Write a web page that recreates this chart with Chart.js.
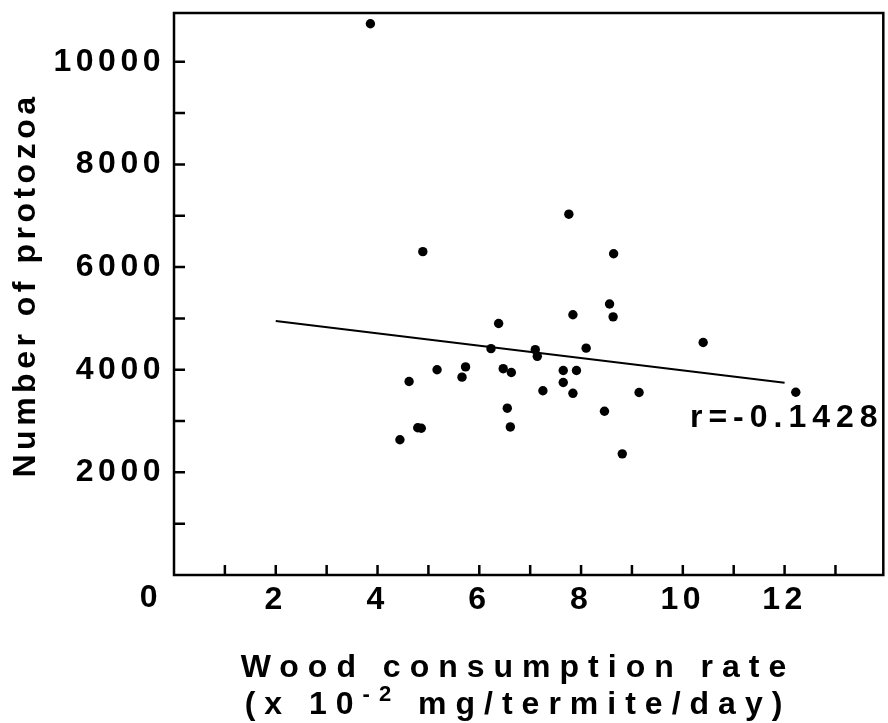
<!DOCTYPE html>
<html><head><meta charset="utf-8">
<script src="https://cdn.jsdelivr.net/npm/chart.js@4.4.1/dist/chart.umd.min.js"></script>
<style>html,body{margin:0;padding:0;background:#fff}#wrap{width:888px;height:723px}</style>
</head><body><div id="wrap"><canvas id="c" width="888" height="723"></canvas></div>
<script>
// ---- data ----
const consumption = [3.86, 4.89, 7.76, 8.64, 8.56, 8.63, 7.84, 6.38, 6.23, 7.10, 7.14, 8.10, 5.17, 5.73, 5.66, 4.62, 6.47, 6.63, 7.65, 7.91, 7.65, 7.25, 7.84, 9.14, 6.55, 8.46, 4.79, 4.86, 6.61, 10.40, 12.22, 4.44, 8.81];
const protozoa    = [10740, 6300, 7030, 6260, 5280, 5030, 5070, 4900, 4410, 4390, 4260, 4420, 4000, 4055, 3855, 3770, 4020, 3945, 3985, 3985, 3750, 3590, 3540, 3555, 3250, 3190, 2870, 2860, 2885, 4530, 3560, 2635, 2360];
const fitX = [2, 12];
const fitY = [4950, 3745];
const xTickValues = [2, 4, 6, 8, 10, 12];
const yTickValues = [2000, 4000, 6000, 8000, 10000];
const xMarkValues = [1, 2, 3, 4, 5, 6, 7, 8, 9, 10, 11, 12, 13];
const yMarkValues = [1000, 2000, 3000, 4000, 5000, 6000, 7000, 8000, 9000, 10000];
const originLabel = '0';
const yTitle = 'Number of protozoa';
const xTitleLine1 = 'Wood consumption rate';
const xTitleLine2 = ['(x 10', '-2', ' mg/termite/day)'];
const rLabel = 'r=-0.1428';
const rLabelAt = [10.14, 3060];

const FONT = '"Liberation Sans", Arial, Helvetica, sans-serif';

const decor = {
  id: 'decor',
  beforeDraw(chart) { chart.ctx.letterSpacing = '4.5px'; },
  beforeDatasetsDraw(chart) {
    const {ctx, chartArea: a, scales: {x, y}} = chart;
    ctx.save();
    ctx.strokeStyle = '#000';
    ctx.lineWidth = 2.5;
    ctx.strokeRect(a.left, a.top, a.right - a.left, a.bottom - a.top);
    ctx.beginPath();
    xMarkValues.forEach(v => { const px = x.getPixelForValue(v); ctx.moveTo(px, a.bottom); ctx.lineTo(px, a.bottom - 10); });
    yMarkValues.forEach(v => { const py = y.getPixelForValue(v); ctx.moveTo(a.left, py); ctx.lineTo(a.left + 11, py); });
    ctx.stroke();
    ctx.restore();
  },
  afterDraw(chart) {
    const {ctx, chartArea: a, scales: {x, y}} = chart;
    ctx.save();
    ctx.fillStyle = '#000';
    ctx.letterSpacing = '4.5px';
    ctx.font = 'bold 32px ' + FONT;
    // origin label
    ctx.textAlign = 'center';
    ctx.textBaseline = 'middle';
    ctx.fillText(originLabel, x.getPixelForValue(0) - 23, a.bottom + 23);
    // r label
    ctx.letterSpacing = '6px';
    ctx.textAlign = 'left';
    ctx.fillText(rLabel, x.getPixelForValue(rLabelAt[0]), y.getPixelForValue(rLabelAt[1]));
    // y title
    ctx.letterSpacing = '4.5px';
    ctx.save();
    ctx.translate(26, 285);
    ctx.rotate(-Math.PI / 2);
    ctx.textAlign = 'center';
    ctx.fillText(yTitle, 0, 0);
    ctx.restore();
    // x title
    ctx.letterSpacing = '9px';
    ctx.textAlign = 'center';
    ctx.textBaseline = 'alphabetic';
    const cx = 518;
    ctx.fillText(xTitleLine1, cx, 677);
    ctx.textAlign = 'left';
    const big = 'bold 32px ' + FONT, small = 'bold 22px ' + FONT;
    ctx.font = big; const w1 = ctx.measureText(xTitleLine2[0]).width;
    ctx.font = small; const w2 = ctx.measureText(xTitleLine2[1]).width;
    ctx.font = big; const w3 = ctx.measureText(xTitleLine2[2]).width;
    let sx = cx - (w1 + w2 + w3) / 2;
    ctx.font = big; ctx.fillText(xTitleLine2[0], sx, 714); sx += w1;
    ctx.font = small; ctx.fillText(xTitleLine2[1], sx, 701); sx += w2;
    ctx.font = big; ctx.fillText(xTitleLine2[2], sx, 714);
    ctx.restore();
  }
};

const points = consumption.map((v, i) => ({x: v, y: protozoa[i]}));
const fitLine = fitX.map((v, i) => ({x: v, y: fitY[i]}));

new Chart(document.getElementById('c'), {
  type: 'scatter',
  data: {
    datasets: [
      {type: 'scatter', data: points, pointRadius: 4.7, pointHoverRadius: 4.7, backgroundColor: '#000', borderWidth: 0},
      {type: 'line', data: fitLine, borderColor: '#000', borderWidth: 2, pointRadius: 0, fill: false, tension: 0}
    ]
  },
  options: {
    responsive: false,
    animation: false,
    devicePixelRatio: 1,
    layout: {padding: {top: 13, right: 2, left: 0, bottom: 0}},
    plugins: {legend: {display: false}, tooltip: {enabled: false}, title: {display: false}},
    events: [],
    scales: {
      x: {
        type: 'linear', min: 0, max: 13.94,
        afterBuildTicks: s => { s.ticks = xTickValues.map(v => ({value: v})); },
        afterFit: s => { s.height = 148; s.paddingLeft = 0; s.paddingRight = 0; },
        grid: {display: false, drawTicks: false},
        border: {display: false},
        ticks: {color: '#000', padding: 6, maxRotation: 0, autoSkip: false, font: {family: FONT, size: 32, weight: 'bold'}, callback: v => String(v)}
      },
      y: {
        type: 'linear', min: 0, max: 10950,
        afterBuildTicks: s => { s.ticks = yTickValues.map(v => ({value: v})); },
        afterFit: s => { s.width = 174; s.paddingTop = 0; s.paddingBottom = 0; },
        grid: {display: false, drawTicks: false},
        border: {display: false},
        ticks: {color: '#000', padding: 9, autoSkip: false, font: {family: FONT, size: 32, weight: 'bold'}, callback: v => String(v)}
      }
    }
  },
  plugins: [decor]
});
</script>
</body></html>
